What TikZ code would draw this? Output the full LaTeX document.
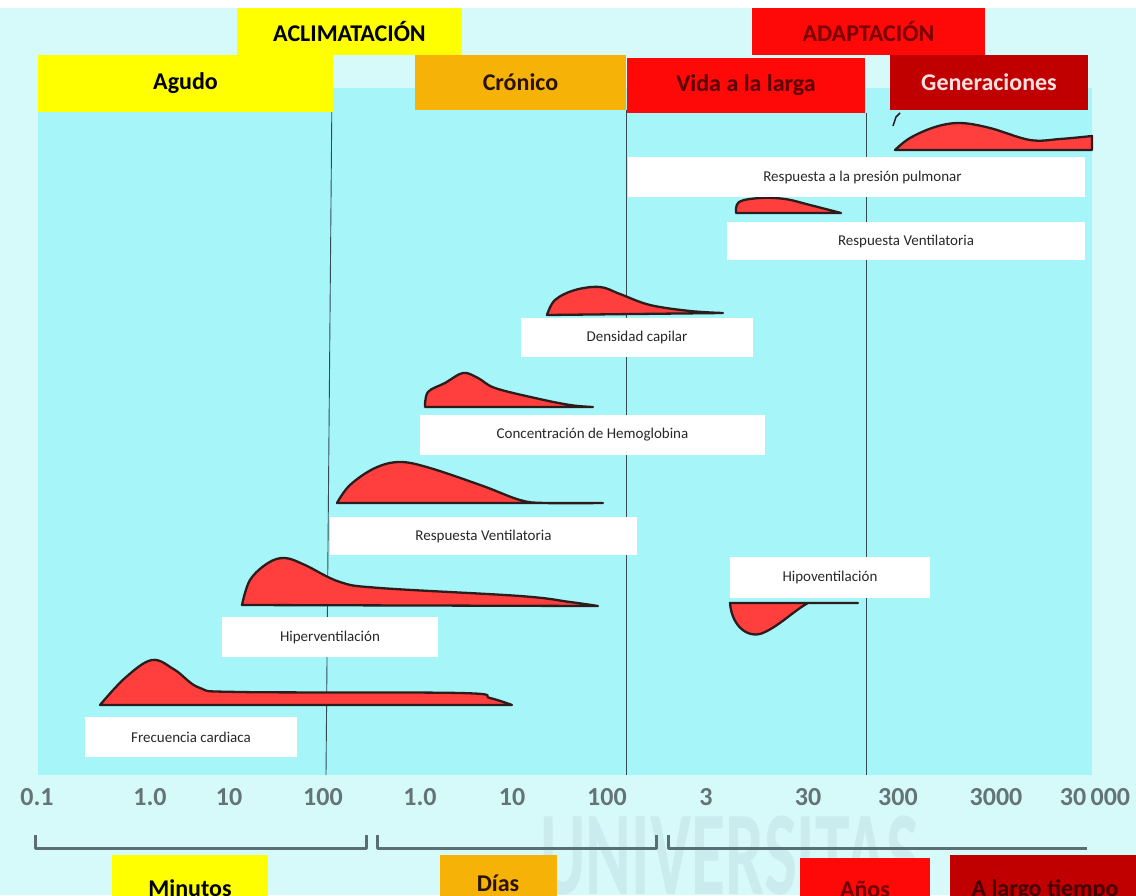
\documentclass[tikz,border=0pt]{standalone}
\usepackage{fontspec}
\setmainfont{Carlito}
\definecolor{bgout}{RGB}{214,250,250}
\definecolor{bgmain}{RGB}{166,245,248}
\definecolor{cyel}{RGB}{255,255,0}
\definecolor{corange}{RGB}{247,178,8}
\definecolor{cred}{RGB}{255,8,8}
\definecolor{cdark}{RGB}{192,0,0}
\definecolor{humpfill}{RGB}{255,62,62}
\definecolor{humpline}{RGB}{45,28,28}
\definecolor{gridline}{RGB}{50,75,85}
\definecolor{axisgray}{RGB}{100,115,118}
\definecolor{bracketgray}{RGB}{90,110,115}
\definecolor{labeltext}{RGB}{40,40,40}
\definecolor{wmark}{RGB}{196,228,230}
\tikzset{
  band/.style={anchor=north west, inner sep=0pt, outer sep=0pt},
  hdrtext/.style={font=\bfseries\fontsize{24}{28}\selectfont},
  tag/.style={band, fill=white},
  tagtext/.style={font=\fontsize{15}{18}\selectfont, text=labeltext},
  axislbl/.style={font=\bfseries\fontsize{26}{30}\selectfont, text=axisgray},
  hump/.style={fill=humpfill, draw=humpline, line width=2.3pt, line join=round},
  divider/.style={draw=gridline, line width=0.9pt},
  bracket/.style={draw=bracketgray, line width=3pt, line join=round},
}
\begin{document}
\begin{tikzpicture}[x=1pt,y=-1pt]
\useasboundingbox (0,0) rectangle (1136,895);
\clip (0,0) rectangle (1136,895);

% backgrounds
\fill[bgout] (0,0) rectangle (1136,895);
\fill[white] (0,0) rectangle (1136,8);
\fill[bgmain] (38,88) rectangle (1092,775);

% watermark
\node[text=wmark, opacity=0.6, font=\bfseries\fontsize{120}{120}\selectfont, xscale=0.58] (wm) at (730,856) {UNIVERSITAS};

% time-scale dividers
\draw[divider] (332,88) -- (326,775);
\draw[divider] (626,110) -- (626,775);
\draw[divider] (866,113) -- (866,775);

% header bands
\node[band, fill=cyel, minimum width=225pt, minimum height=47pt] (aclim) at (237,8) {};
\node[hdrtext] at (aclim.center) {ACLIMATACIÓN};
\node[band, fill=cred, minimum width=233pt, minimum height=47pt] (adapt) at (752,8) {};
\node[hdrtext, text={rgb,255:red,120;green,0;blue,0}] at (adapt.center) {ADAPTACIÓN};

\node[band, fill=cyel, minimum width=295pt, minimum height=57pt] (agudo) at (38,55) {};
\node[hdrtext] at (agudo.center) {Agudo};
\node[band, fill=corange, minimum width=211pt, minimum height=55pt] (cronico) at (415,55) {};
\node[hdrtext, text={rgb,255:red,40;green,20;blue,0}] at (cronico.center) {Crónico};
\node[band, fill=cred, minimum width=238pt, minimum height=55pt] (vida) at (627,58) {};
\node[hdrtext, text={rgb,255:red,90;green,0;blue,0}] at (vida.center) {Vida a la larga};
\node[band, fill=cdark, minimum width=198pt, minimum height=55pt] (gener) at (890,55) {};
\node[hdrtext, text={rgb,255:red,255;green,225;blue,225}] at (gener.center) {Generaciones};

% response humps
\draw[hump] plot[smooth, tension=0.6] coordinates {(895,150) (910,138) (935,127) (960,123) (990,128) (1030,140) (1060,139) (1092,136)} -- (1092,150) -- cycle;
\draw[humpline, line width=1.5pt] (893,126) -- (896,117) -- (900,113);
\draw[hump] plot[smooth, tension=0.6] coordinates {(736,213) (739,202) (760,198) (785,199) (810,205) (841,213)} -- cycle;
\draw[hump] plot[smooth, tension=0.6] coordinates {(547,315) (555,300) (575,290) (600,287) (620,294) (650,305) (690,311) (723,313)} -- cycle;
\draw[hump] plot[smooth, tension=0.6] coordinates {(425,407) (428,392) (445,383) (463,373) (478,378) (495,388) (535,398) (570,405) (593,407)} -- cycle;
\draw[hump] plot[smooth, tension=0.6] coordinates {(337,503) (350,485) (375,468) (400,462) (430,468) (483,486) (520,500) (545,503) (603,503)} -- cycle;
\draw[hump] plot[smooth, tension=0.6] coordinates {(242,605) (250,580) (268,563) (285,558) (305,565) (340,582) (380,588) (520,596) (570,602) (598,606)} -- cycle;
\draw[hump] plot[smooth, tension=0.6] coordinates {(100,705) (125,678) (152,660) (175,670) (200,688) (240,692) (460,693) (490,698) (512,705)} -- cycle;
\draw[hump] (858,603) -- (730,603) .. controls (732,628) and (750,640) .. (765,632) .. controls (780,625) and (795,610) .. (808,603) -- cycle;

% response labels
\node[tag, minimum width=457pt, minimum height=40pt] (presion) at (628,157) {};
\node[tagtext] at ([xshift=6pt]presion.center) {Respuesta a la presión pulmonar};
\node[tag, minimum width=358pt, minimum height=38pt] (ventA) at (727,222) {};
\node[tagtext] at (ventA.center) {Respuesta Ventilatoria};
\node[tag, minimum width=232pt, minimum height=39pt] (densidad) at (521,318) {};
\node[tagtext] at (densidad.center) {Densidad capilar};
\node[tag, minimum width=345pt, minimum height=40pt] (hemo) at (420,415) {};
\node[tagtext] at (hemo.center) {Concentración de Hemoglobina};
\node[tag, minimum width=307pt, minimum height=38pt] (ventB) at (330,517) {};
\node[tagtext] at (ventB.center) {Respuesta Ventilatoria};
\node[tag, minimum width=200pt, minimum height=41pt] (hipo) at (730,557) {};
\node[tagtext] at (hipo.center) {Hipoventilación};
\node[tag, minimum width=216pt, minimum height=40pt] (hiper) at (222,617) {};
\node[tagtext] at (hiper.center) {Hiperventilación};
\node[tag, minimum width=212pt, minimum height=40pt] (frec) at (85,717) {};
\node[tagtext] at (frec.center) {Frecuencia cardiaca};

% axis values
\node[axislbl] (v1) at (37,797) {0.1};
\node[axislbl] (v2) at (150,797) {1.0};
\node[axislbl] (v3) at (229,797) {10};
\node[axislbl] (v4) at (323,797) {100};
\node[axislbl] (v5) at (420,797) {1.0};
\node[axislbl] (v6) at (512,797) {10};
\node[axislbl] (v7) at (607,797) {100};
\node[axislbl] (v8) at (706,797) {3};
\node[axislbl] (v9) at (808,797) {30};
\node[axislbl] (v10) at (898,797) {300};
\node[axislbl] (v11) at (996,797) {3000};
\node[axislbl] (v12) at (1095,797) {30\,000};

% range brackets
\draw[bracket] (35,835) -- (35,848) -- (366,848) -- (366,835);
\draw[bracket] (377,835) -- (377,848) -- (656,848) -- (656,835);
\draw[bracket] (668,835) -- (668,848) -- (1087,848);

% time unit bands
\node[band, fill=cyel, minimum width=156pt, minimum height=45pt] (minutos) at (112,855) {};
\node[hdrtext, anchor=base] at (190,896) {Minutos};
\node[band, fill=corange, minimum width=117pt, minimum height=45pt] (dias) at (440,855) {};
\node[hdrtext, anchor=base, text={rgb,255:red,40;green,20;blue,0}] at (498,891) {Días};
\node[band, fill=cred, minimum width=130pt, minimum height=42pt] (anos) at (800,858) {};
\node[hdrtext, anchor=base, text={rgb,255:red,110;green,0;blue,0}] at (865,897) {Años};
\node[band, fill=cdark, minimum width=190pt, minimum height=45pt] (largo) at (950,855) {};
\node[hdrtext, anchor=base, text={rgb,255:red,70;green,0;blue,0}] at (1045,896) {A largo tiempo};
\end{tikzpicture}
\end{document}
